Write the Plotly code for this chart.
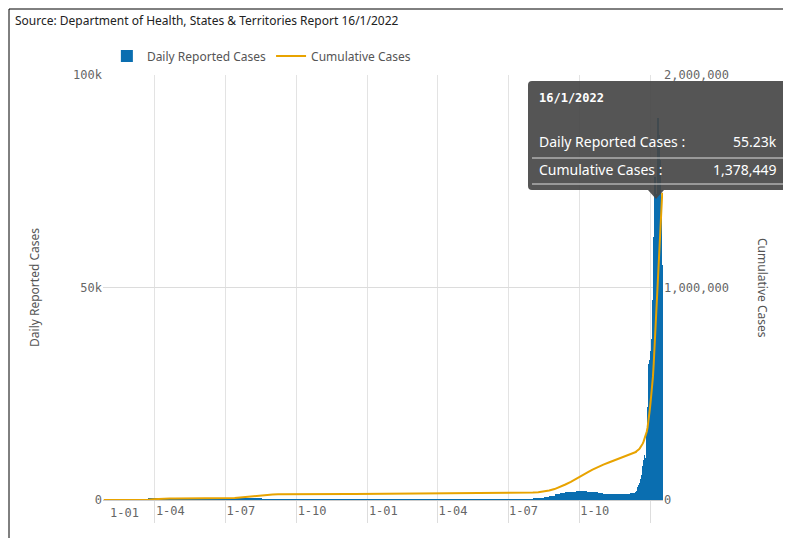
import numpy as np
import pandas as pd
import plotly.graph_objects as go

weekly_start = "2020-01-27"
weekly_avg = [1, 1, 0, 0, 1,
    8, 25, 150, 380, 250, 90, 35, 15, 12, 15, 12, 10, 12, 10, 12, 20, 40, 90, 170, 280, 400, 530,
    450, 330, 230, 130, 90, 55, 30, 15, 12, 12, 10, 10, 8, 8, 8, 12, 10, 10, 10, 15, 25, 20,
    18, 12, 8, 6, 8, 10, 8, 8, 10, 12, 12, 15, 15, 12, 12, 12, 12, 10, 10, 8, 20, 20, 15, 15,
    30, 45, 60, 90, 150, 230, 300, 420, 700, 950, 1400, 1700, 1800, 1900, 2100, 2200, 2000,
    1800, 1600, 1400, 1300, 1300, 1300, 1400, 1700]
daily_start = "2021-12-13"
daily_vals = [2000, 2200, 2500, 3000, 3500, 4000, 4500, 5000, 6000, 8000, 9500, 10500, 9000,
    10000, 16000, 18000, 22000, 32000, 33000, 35000, 33000, 38000, 47000, 62000, 70000, 76000,
    72000, 69000, 72000, 90000, 86000, 80000, 70000, 64000, 55230]

wk_dates = pd.date_range(weekly_start, periods=len(weekly_avg), freq="7D")
dy_dates = pd.date_range(daily_start, periods=len(daily_vals), freq="D")
wk_vals = np.array(weekly_avg, float)
dy_vals = np.array(daily_vals, float)
cum_wk = np.cumsum(wk_vals * 7)
cum_dy = cum_wk[-1] + np.cumsum(dy_vals)
cum_dates = list(wk_dates + pd.Timedelta(days=7)) + list(dy_dates)
cum_vals = list(cum_wk) + list(cum_dy)

BLUE = "#0a6eb0"
ORANGE = "#e8a300"
DAY = 86400000

fig = go.Figure()
fig.add_trace(go.Bar(x=wk_dates + pd.Timedelta(days=3.5), y=wk_vals, width=7 * DAY,
                     marker=dict(color=BLUE, line=dict(width=0)), name="Daily Reported Cases"))
fig.add_trace(go.Bar(x=dy_dates, y=dy_vals, width=DAY, marker=dict(color=BLUE, line=dict(width=0)),
                     name="Daily Reported Cases", showlegend=False))
fig.add_trace(go.Scatter(x=[pd.Timestamp("2020-01-26")] + cum_dates, y=[0] + cum_vals, yaxis="y2",
                         mode="lines", line=dict(color=ORANGE, width=2), name="Cumulative Cases"))

tickvals = ["2020-01-01", "2020-04-01", "2020-07-01", "2020-10-01", "2021-01-01", "2021-04-01",
            "2021-07-01", "2021-10-01", "2022-01-01"]
ticktext = ["1-01", "1-04", "1-07", "1-10", "1-01", "1-04", "1-07", "1-10", ""]
mono = dict(family="DejaVu Sans Mono", size=12, color="#666")

fig.update_layout(
    width=791, height=538, margin=dict(l=95, r=136, t=67, b=46, autoexpand=False),
    paper_bgcolor="white", plot_bgcolor="white", bargap=0, barmode="overlay",
    font=dict(family="Noto Sans", size=12, color="#555"),
    showlegend=True,
    legend=dict(orientation="h", x=0.125, y=1 - 48 / 538, xref="container", yref="container",
                xanchor="left", yanchor="middle",
                font=dict(size=12, color="#555"), traceorder="normal"),
    xaxis=dict(type="date", range=["2020-01-25", "2022-01-17"], tickvals=tickvals, ticktext=ticktext,
               ticklabelposition="outside right", ticks="outside", ticklen=22, tickcolor="#ddd",
               showgrid=True, gridcolor="#e3e3e3", showline=True, linecolor="#ccc",
               tickfont=mono, zeroline=False, automargin=False),
    yaxis=dict(range=[0, 100000], tickvals=[0, 50000, 100000], ticktext=["0", "50k", "100k"],
               tickfont=mono, showgrid=True, gridcolor="#dcdcdc", zeroline=False, automargin=False,
               title=dict(text="Daily Reported Cases", font=dict(size=12, color="#555"), standoff=30)),
    yaxis2=dict(overlaying="y", side="right", range=[0, 2000000], tickvals=[0, 1000000, 2000000],
                ticktext=["0", "1,000,000", "2,000,000"], tickfont=mono, showgrid=False,
                zeroline=False, automargin=False),
)

def px(x):
    return (x - 95) / 560
def py(y):
    return (492 - y) / 425

ann = [
    dict(text="Source: Department of Health, States & Territories Report 16/1/2022", x=5, y=12,
         xanchor="left", font=dict(size=12, color="#222")),
    dict(text="Cumulative Cases", x=755, y=280, textangle=90, font=dict(size=12, color="#555")),
    dict(text="1-01", x=100, y=505, xanchor="left", font=mono),
    dict(text="<b>16/1/2022</b>", x=529, y=90, xanchor="left", font=dict(family="DejaVu Sans Mono", size=12, color="white")),
    dict(text="Daily Reported Cases :", x=529, y=133, xanchor="left", font=dict(size=14, color="white")),
    dict(text="55.23k", x=771, y=133, xanchor="right", font=dict(size=14, color="white")),
    dict(text="Cumulative Cases :", x=529, y=161, xanchor="left", font=dict(size=14, color="white")),
    dict(text="1,378,449", x=771, y=161, xanchor="right", font=dict(size=14, color="white")),
]
fig.update_layout(annotations=[dict(a, x=px(a["x"]), y=py(a["y"]), xref="paper", yref="paper",
                                    showarrow=False, yanchor="middle", **({} if "xanchor" in a else {"xanchor": "center"}))
                               for a in ann])

shapes = [
    dict(type="rect", xref="paper", yref="paper", x0=px(1), x1=px(790), y0=py(537), y1=py(1),
         line=dict(color="black", width=1), fillcolor="rgba(0,0,0,0)", layer="below"),
    dict(type="path", xref="paper", yref="paper",
         path=f"M {px(524)} {py(73)} L {px(776)} {py(73)} Q {px(780)} {py(73)} {px(780)} {py(77)} "
              f"L {px(780)} {py(178)} Q {px(780)} {py(182)} {px(776)} {py(182)} L {px(656)} {py(182)} "
              f"L {px(648)} {py(191)} L {px(640)} {py(182)} L {px(524)} {py(182)} "
              f"Q {px(520)} {py(182)} {px(520)} {py(178)} L {px(520)} {py(77)} Q {px(520)} {py(73)} {px(524)} {py(73)} Z",
         fillcolor="rgba(70,70,70,0.92)", line=dict(width=0)),
    dict(type="line", xref="paper", yref="paper", x0=px(524), x1=px(776), y0=py(150), y1=py(150),
         line=dict(color="#ddd", width=1)),
    dict(type="line", xref="paper", yref="paper", x0=px(524), x1=px(776), y0=py(176), y1=py(176),
         line=dict(color="#ddd", width=1)),
]
fig.update_layout(shapes=shapes)
fig.write_html("out.html")
